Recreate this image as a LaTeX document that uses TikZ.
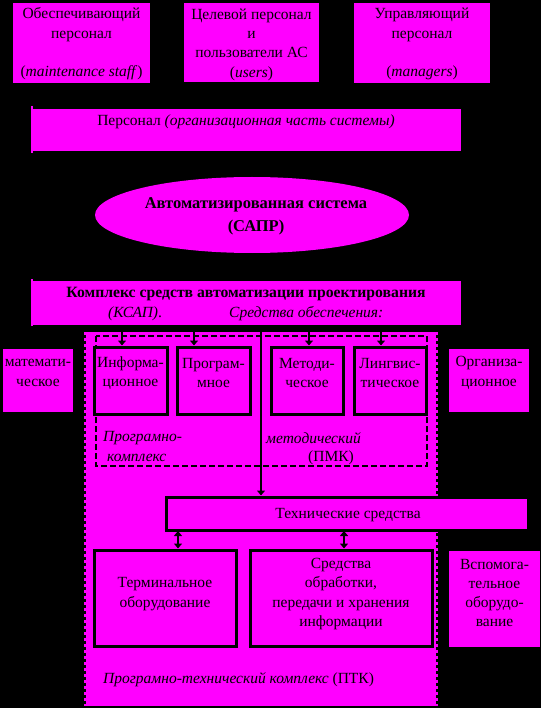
\documentclass[tikz,border=0pt]{standalone}
\usepackage{fontspec}
\setmainfont{Liberation Serif}
\usetikzlibrary{arrows.meta,shapes.geometric}
\definecolor{mag}{HTML}{FF00FF}
\begin{document}
\begin{tikzpicture}[x=1pt,y=-1pt,
  mbox/.style={fill=mag,draw=none,inner sep=0pt,rectangle},
  kbox/.style={fill=mag,draw=black,line width=3pt,inner sep=0pt,rectangle},
  txt/.style={inner sep=0pt,align=center,text=black,font=\fontsize{15.5}{19.3}\selectfont},
  dbl/.style={{Triangle[length=5pt,width=8pt]}-{Triangle[length=5pt,width=8pt]},line width=2pt,draw=black},
  edge/.style={draw=mag,line width=1.5pt}]
\useasboundingbox (0,0) rectangle (541,708);
\fill[black] (0,0) rectangle (541,708);
% top personnel boxes
\node[mbox,minimum width=137pt,minimum height=80pt] (b1) at (81.5,43) {};
\node[mbox,minimum width=135pt,minimum height=79pt] (b2) at (251.5,42.5) {};
\node[mbox,minimum width=136pt,minimum height=80pt] (b3) at (422,43) {};
\node[txt] (b1t) at (81.5,44) {Обеспечивающий\\персонал\\ \\(\textit{maintenance staff})};
\node[txt] (b2t) at (251.5,44.5) {Целевой персонал\\и\\пользователи АС\\(\textit{users})};
\node[txt] (b3t) at (422,44) {Управляющий\\персонал\\ \\(\textit{managers})};
% personnel bar
\node[mbox,minimum width=428pt,minimum height=42pt] (pers) at (247,130) {};
\draw[edge] (32,106) coordinate (p1) -- (32,153) coordinate (p2);
\node[txt] (perst) at (246,122) {Персонал \textit{(организационная часть системы)}};
% ellipse
\node[ellipse,fill=mag,draw=none,minimum width=314pt,minimum height=76pt,inner sep=0pt] (ell) at (252,215) {};
\node[txt,font=\fontsize{16.5}{23}\selectfont\bfseries] (ellt) at (256,216) {Автоматизированная система\\(САПР)};
% KSAP bar
\node[mbox,minimum width=428pt,minimum height=44pt] (ksap) at (247,303) {};
\draw[edge] (32,279) coordinate (k1) -- (32,326) coordinate (k2);
\node[txt,font=\fontsize{15.7}{19}\selectfont\bfseries] (ksapt) at (246,294) {Комплекс средств автоматизации проектирования};
\node[txt,anchor=west] (ksapt2) at (108,314) {\textit{(КСАП)}.};
\node[txt,anchor=west] (ksapt3) at (229,314) {\textit{Средства обеспечения:}};
% big PTK region
\fill[mag] (86,332) rectangle (436,706);
\draw[mag,line width=2pt,dash pattern=on 3pt off 3pt] (85,332) -- (85,706);
\draw[mag,line width=2pt,dash pattern=on 3pt off 3pt] (437,332) -- (437,706);
\node[inner sep=0pt,minimum width=350pt,minimum height=374pt] (ptk) at (261,519) {};
% side boxes
\node[mbox,minimum width=70pt,minimum height=63pt] (mat) at (38,380.5) {};
\node[txt] (matt) at (38,373) {математи-\\ческое};
\node[mbox,minimum width=80pt,minimum height=63pt] (org) at (489,380.5) {};
\node[txt] (orgt) at (489,373) {Организа-\\ционное};
% PMK dashed box
\draw[black,line width=1.6pt,dash pattern=on 6pt off 3pt] (96,336) rectangle (427,466);
\node[inner sep=0pt,minimum width=331pt,minimum height=130pt] (pmk) at (261.5,401) {};
% inner boxes
\node[kbox,minimum width=73pt,minimum height=67pt] (info) at (130.5,380.5) {};
\node[kbox,minimum width=73pt,minimum height=67pt] (prog) at (213.5,380.5) {};
\node[kbox,minimum width=72pt,minimum height=67pt] (met) at (307,380.5) {};
\node[kbox,minimum width=72pt,minimum height=67pt] (ling) at (390,380.5) {};
\node[txt] (infot) at (130.5,373) {Информа-\\ционное};
\node[txt] (progt) at (213.5,373) {Програм-\\мное};
\node[txt] (mett) at (307,373) {Методи-\\ческое};
\node[txt] (lingt) at (390,373) {Лингвис-\\тическое};
% PMK labels
\node[txt,anchor=west] (l1) at (103,438) {\textit{Програмно-}};
\node[txt,anchor=west] (l2) at (107,458) {\textit{комплекс}};
\node[txt,anchor=west] (l3) at (266,438) {\textit{методический}};
\node[txt,anchor=west] (l4) at (308,458) {(ПМК)};
% arrows KSAP -> inner boxes
\coordinate (a1) at (122,325);
\coordinate (a2) at (194,325);
\coordinate (a3) at (309,325);
\coordinate (a4) at (381,325);
\draw[dbl] (a1) -- (a1 |- info.north);
\draw[dbl] (a2) -- (a2 |- prog.north);
\draw[dbl] (a3) -- (a3 |- met.north);
\draw[dbl] (a4) -- (a4 |- ling.north);
% technical means
\node[kbox,minimum width=362pt,minimum height=33pt] (tech) at (347,513.5) {};
\node[txt] (techt) at (348,515) {Технические средства};
\coordinate (a5) at (261,325);
\draw[dbl] (a5) -- (a5 |- tech.north);
% lower boxes
\node[kbox,minimum width=142pt,minimum height=96pt] (term) at (165,598) {};
\node[kbox,minimum width=182pt,minimum height=96pt] (sred) at (341,598) {};
\node[txt] (termt) at (165,594) {Терминальное\\оборудование};
\node[txt] (sredt) at (341,594) {Средства\\обработки,\\передачи и хранения\\информации};
\coordinate (a6) at (178,531);
\coordinate (a7) at (344,531);
\draw[dbl] (a6) -- (a6 |- term.north);
\draw[dbl] (a7) -- (a7 |- sred.north);
\node[mbox,minimum width=91pt,minimum height=96pt] (vsp) at (494.5,599) {};
\node[txt] (vspt) at (494.5,593) {Вспомога-\\тельное\\оборудо-\\вание};
% PTK label
\node[txt,anchor=west] (ptkt) at (103,680) {\textit{Програмно-технический комплекс} (ПТК)};
\end{tikzpicture}
\end{document}
